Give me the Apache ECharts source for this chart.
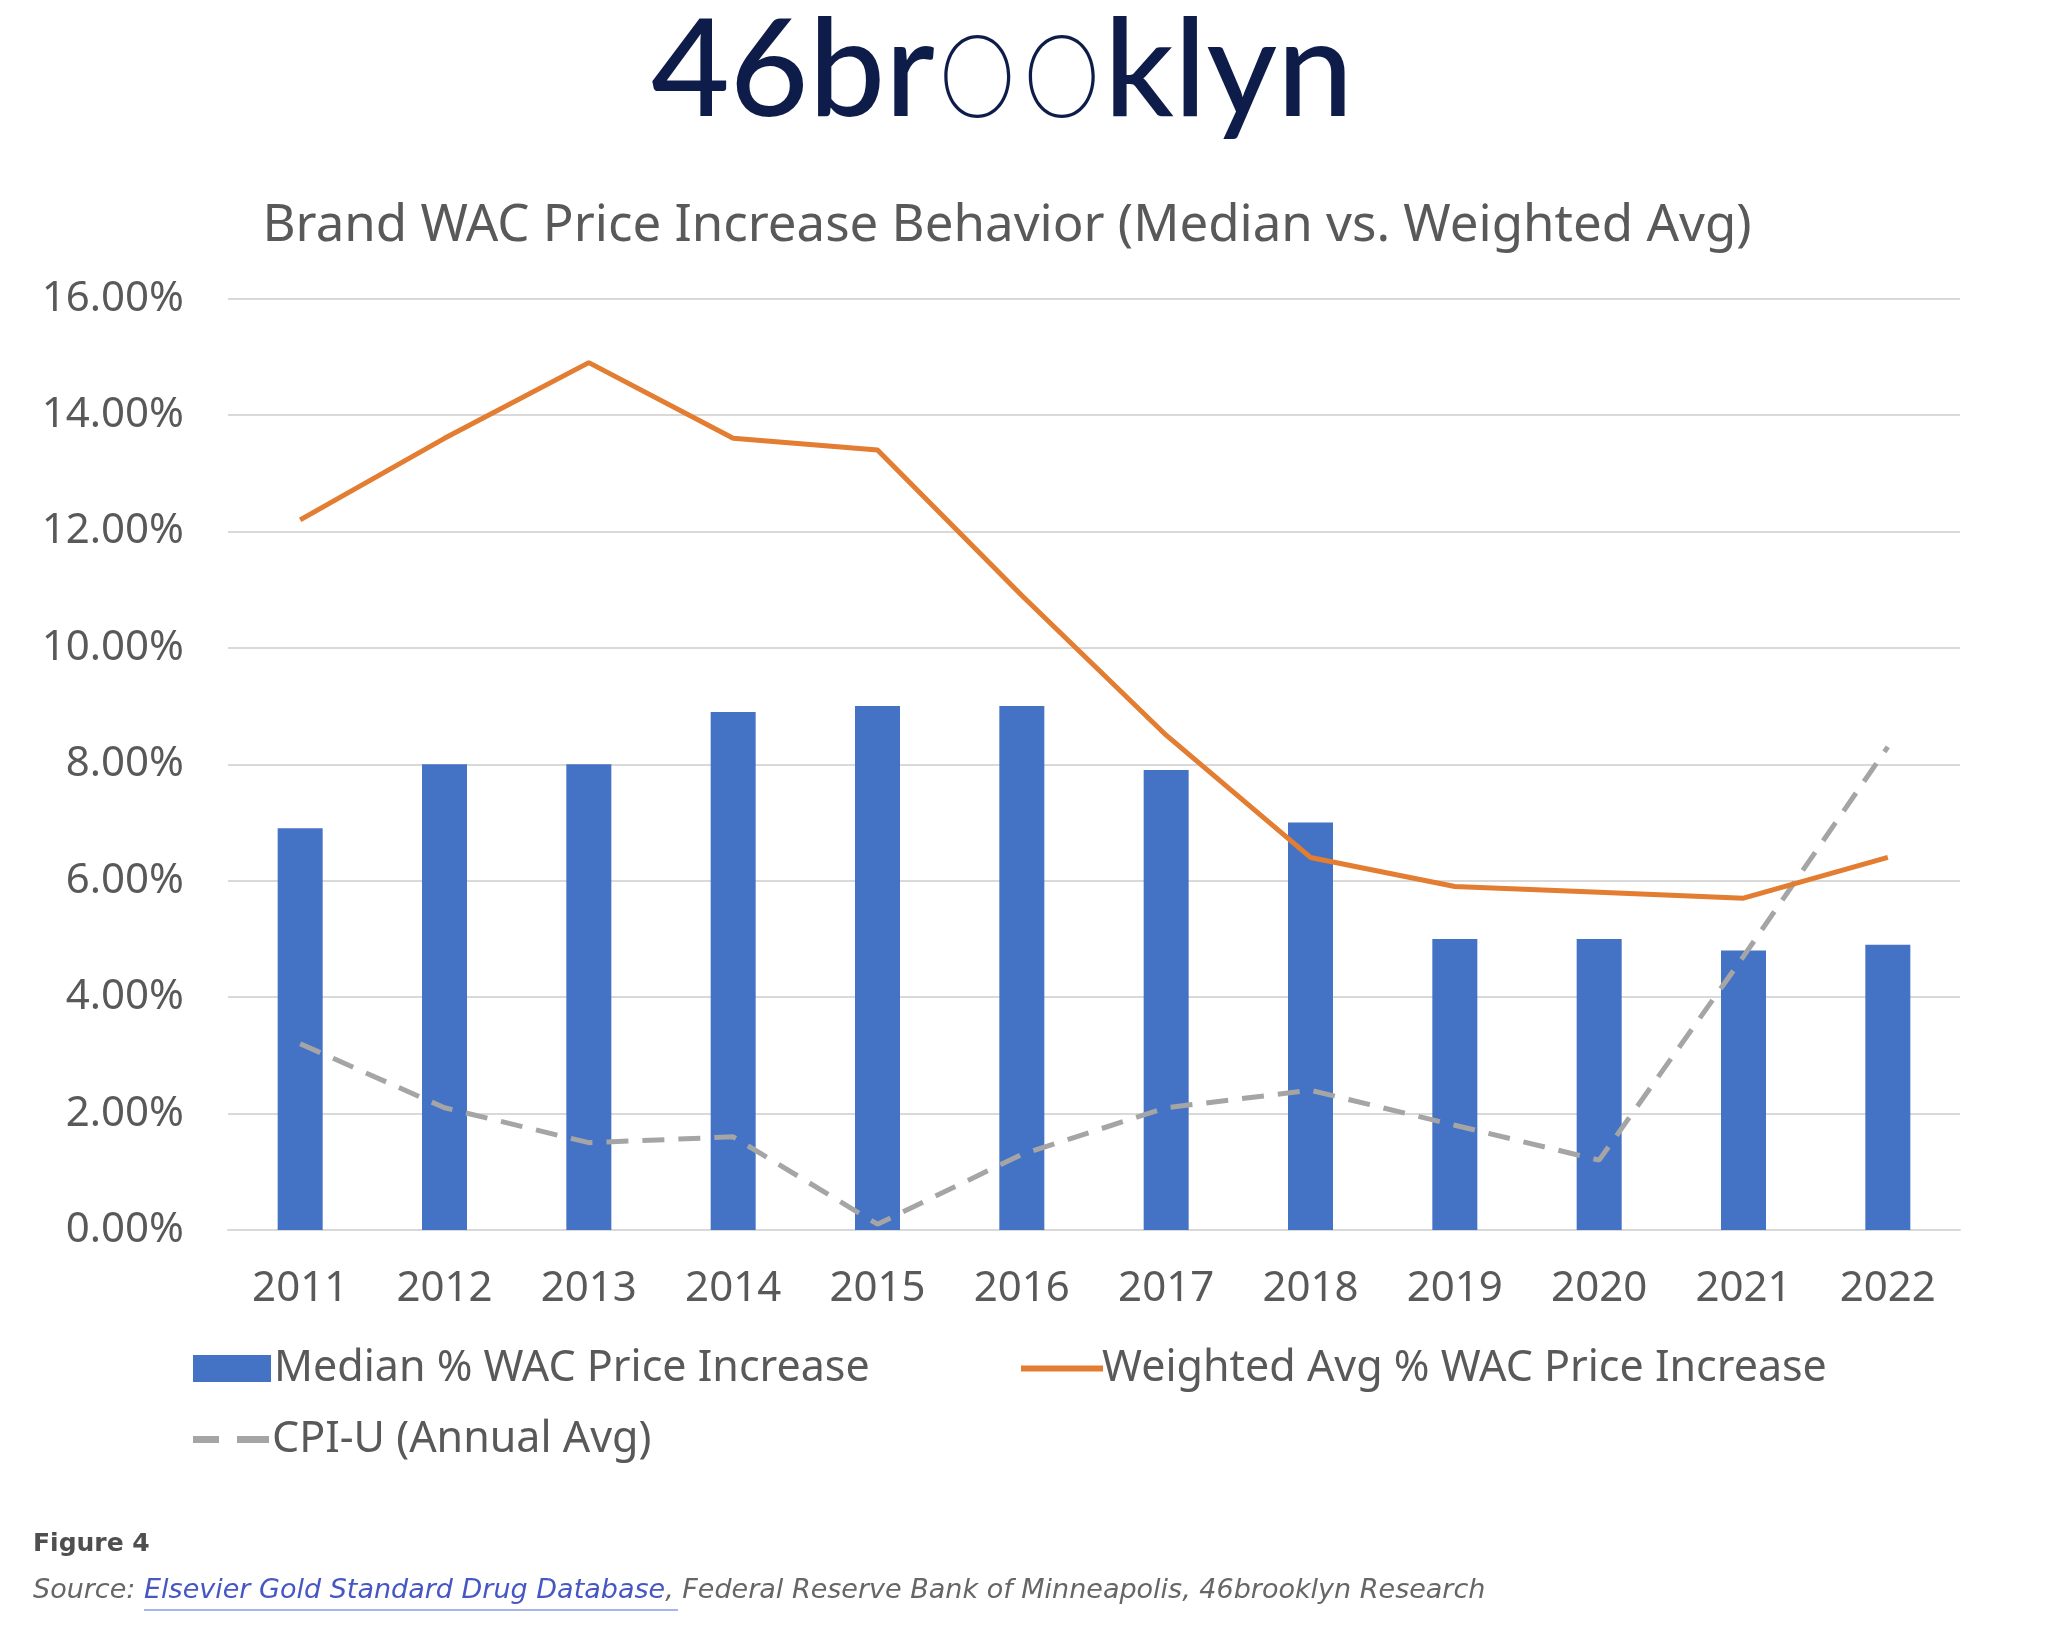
<!DOCTYPE html>
<html>
<head>
<meta charset="utf-8">
<script src="https://cdn.jsdelivr.net/npm/echarts@6/dist/echarts.min.js"></script>
<style>
html,body{margin:0;padding:0;background:#fff;}
#chart{width:2048px;height:1639px;}
</style>
</head>
<body>
<div id="chart"></div>
<script>
var years = ['2011','2012','2013','2014','2015','2016','2017','2018','2019','2020','2021','2022'];
var medianIncrease = [6.9, 8.0, 8.0, 8.9, 9.0, 9.0, 7.9, 7.0, 5.0, 5.0, 4.8, 4.9];
var weightedAvgIncrease = [12.2, 13.6, 14.9, 13.6, 13.4, 10.9, 8.5, 6.4, 5.9, 5.8, 5.7, 6.4];
var cpiU = [3.2, 2.1, 1.5, 1.6, 0.1, 1.3, 2.1, 2.4, 1.8, 1.2, 4.7, 8.3];
var seriesNames = ['Median % WAC Price Increase', 'Weighted Avg % WAC Price Increase', 'CPI-U (Annual Avg)'];
var titleText = 'Brand WAC Price Increase Behavior (Median vs. Weighted Avg)';
var figureText = 'Figure 4';
var sourceLabel = 'Source: ';
var sourceLink = 'Elsevier Gold Standard Drug Database';
var sourceRest = ', Federal Reserve Bank of Minneapolis, 46brooklyn Research';

var FONT = '"Noto Sans", "Open Sans", sans-serif';
var TXT = '#595959';

var chart = echarts.init(document.getElementById('chart'), null, {renderer: 'canvas'});

var option = {
  backgroundColor: '#ffffff',
  animation: false,
  grid: {left: 228, right: 88, top: 298.6, bottom: 409, containLabel: false},
  xAxis: {
    type: 'category',
    data: years,
    axisTick: {show: false},
    axisLine: {show: true, lineStyle: {color: '#d9d9d9', width: 2}},
    axisLabel: {color: TXT, fontSize: 42, fontFamily: FONT, margin: 38}
  },
  yAxis: {
    type: 'value',
    min: 0, max: 16, interval: 2,
    axisLine: {show: false},
    axisTick: {show: false},
    splitLine: {lineStyle: {color: '#d9d9d9', width: 2}},
    axisLabel: {
      color: TXT, fontSize: 42, fontFamily: FONT, margin: 44,
      formatter: function (v) { return v.toFixed(2) + '%'; }
    }
  },
  legend: [
    {
      data: [seriesNames[0]], left: 188, top: 1342,
      itemWidth: 78, itemHeight: 27,
      textStyle: {color: TXT, fontSize: 43, fontFamily: FONT, padding: [0,0,0,-2]},
      icon: 'rect'
    },
    {
      data: [seriesNames[1]], left: 1016, top: 1342,
      itemWidth: 82, itemHeight: 6,
      textStyle: {color: TXT, fontSize: 43, fontFamily: FONT, padding: [0,0,0,-6]},
      icon: 'rect'
    },
    {
      data: [seriesNames[2]], left: 188, top: 1413,
      itemWidth: 76, itemHeight: 7,
      textStyle: {color: TXT, fontSize: 43, fontFamily: FONT, padding: [0,0,0,-2]},
      icon: 'path://M0,0H26V7H0Z M44,0H76V7H44Z'
    }
  ],
  graphic: [
    {
      type: 'text', x: 1002, y: -1,
      style: {
        text: '{a|46br}{b|oo}{a|klyn}',
        textAlign: 'center',
        rich: {
          a: {fontSize: 136, fontFamily: 'Lato, "Noto Sans", sans-serif', fill: '#0e1c4a', fontWeight: 500},
          b: {fontSize: 146, fontFamily: 'Inter, "Noto Sans", sans-serif', fill: '#0e1c4a', fontWeight: 100}
        }
      }
    },
    {
      type: 'text', x: 1007, y: 226,
      style: {
        text: titleText, fill: TXT, fontSize: 51, fontFamily: FONT,
        textAlign: 'center', textVerticalAlign: 'middle'
      }
    },
    {
      type: 'text', x: 33, y: 1544,
      style: {
        text: figureText, fill: '#4f4f4f', fontSize: 25, fontFamily: '"DejaVu Sans", sans-serif', fontWeight: 'bold',
        textAlign: 'left', textVerticalAlign: 'middle'
      }
    },
    {
      type: 'text', x: 33, y: 1591,
      style: {
        text: '{s|' + sourceLabel + '}{l|' + sourceLink + '}{s|' + sourceRest + '}',
        textAlign: 'left', textVerticalAlign: 'middle',
        rich: {
          s: {fontSize: 27, fontFamily: '"DejaVu Sans", sans-serif', fontStyle: 'italic', fill: '#666666'},
          l: {fontSize: 27, fontFamily: '"DejaVu Sans", sans-serif', fontStyle: 'italic', fill: '#4657c4'}
        }
      }
    },
    {
      type: 'line',
      shape: {x1: 144, y1: 1610, x2: 678, y2: 1610},
      style: {stroke: '#aab4e8', lineWidth: 2}
    }
  ],
  series: [
    {
      name: seriesNames[0], type: 'bar', data: medianIncrease,
      barWidth: 45,
      itemStyle: {color: '#4472c4'},
      z: 2
    },
    {
      name: seriesNames[1], type: 'line', data: weightedAvgIncrease,
      symbol: 'none', showSymbol: false,
      lineStyle: {color: '#e27d32', width: 5},
      itemStyle: {color: '#e27d32'},
      z: 4
    },
    {
      name: seriesNames[2], type: 'line', data: cpiU,
      symbol: 'none', showSymbol: false,
      lineStyle: {color: '#a5a5a5', width: 5, type: [22, 14]},
      itemStyle: {color: '#a5a5a5'},
      z: 3
    }
  ]
};
chart.setOption(option);
</script>
</body>
</html>
